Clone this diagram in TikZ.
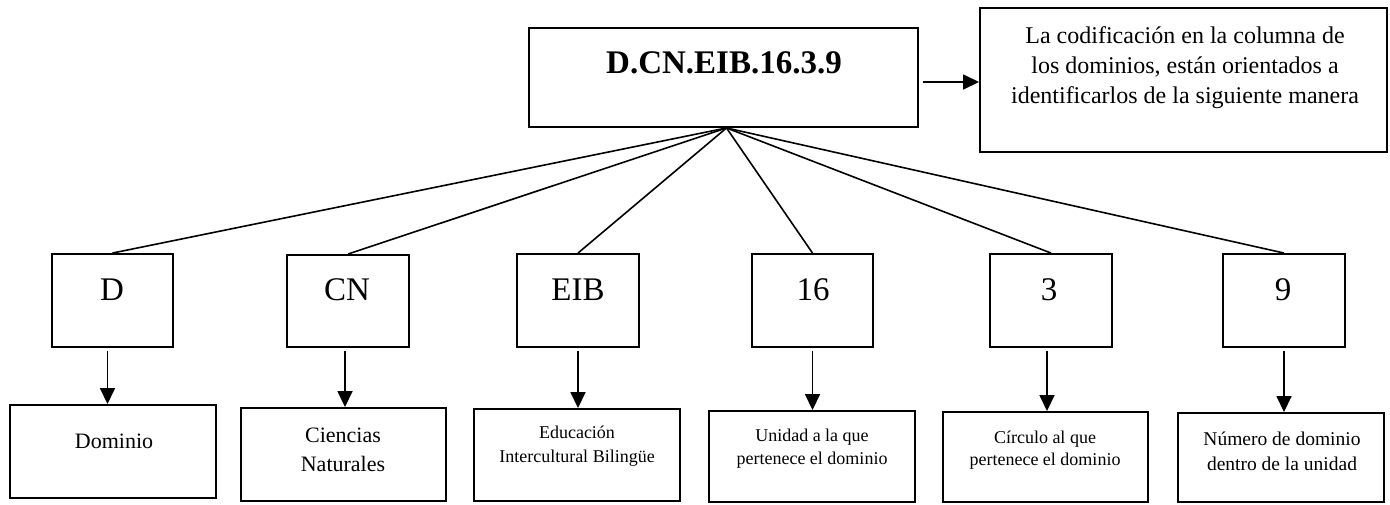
\documentclass[tikz,border=0pt]{standalone}
\usepackage{fontspec}
\setmainfont{Liberation Serif}
\usetikzlibrary{arrows.meta}
\newcommand{\mytxt}[3]{\parbox[t]{460pt}{\centering\fontsize{#1}{#2}\selectfont #3}}
\tikzset{
  bx/.style={draw, line width=1.9pt, inner sep=0pt},
  txt/.style={anchor=base, inner sep=0pt},
  fan/.style={line width=1.6pt},
  arr/.style={line width=1.6pt, -{Triangle[width=15pt,length=16pt]}}
}
\begin{document}
\begin{tikzpicture}[x=1pt,y=-1pt]
\useasboundingbox (0,0) rectangle (1390,504);
% main boxes
\node[bx, minimum width=389pt, minimum height=99pt] (top) at (723.5,77.5) {};
\node[bx, minimum width=407pt, minimum height=144pt] (right) at (1183.5,80) {};
% letter boxes
\node[bx, minimum width=121pt, minimum height=93pt] (bD) at (112.5,300.5) {};
\node[bx, minimum width=122pt, minimum height=92pt] (bCN) at (348,301) {};
\node[bx, minimum width=122pt, minimum height=93pt] (bEIB) at (578,300.5) {};
\node[bx, minimum width=121pt, minimum height=93pt] (b16) at (812.5,300.5) {};
\node[bx, minimum width=122pt, minimum height=93pt] (b3) at (1051,300.5) {};
\node[bx, minimum width=122pt, minimum height=93pt] (b9) at (1284,300.5) {};
% description boxes
\node[bx, minimum width=206pt, minimum height=93pt] (dD) at (113,451.5) {};
\node[bx, minimum width=205pt, minimum height=93pt] (dCN) at (343.5,454.5) {};
\node[bx, minimum width=206pt, minimum height=92pt] (dEIB) at (577,455) {};
\node[bx, minimum width=206pt, minimum height=91pt] (d16) at (812,456.5) {};
\node[bx, minimum width=205pt, minimum height=90pt] (d3) at (1045.5,457) {};
\node[bx, minimum width=206pt, minimum height=89pt] (d9) at (1281,457.5) {};
% texts
\node[txt] (tTop) at (724,73) {\fontsize{33}{40}\selectfont\bfseries D.CN.EIB.16.3.9};
\node[txt] (tRight) at (1185,43) {\mytxt{24}{30}{La codificación en la columna de\\los dominios, están orientados a\\identificarlos de la siguiente manera}};
\node[txt] (tbD) at (112,300) {\fontsize{33}{40}\selectfont D};
\node[txt] (tbCN) at (347,300) {\fontsize{33}{40}\selectfont CN};
\node[txt] (tbEIB) at (578,300) {\fontsize{33}{40}\selectfont EIB};
\node[txt] (tb16) at (813,300) {\fontsize{33}{40}\selectfont 16};
\node[txt] (tb3) at (1049,300) {\fontsize{33}{40}\selectfont 3};
\node[txt] (tb9) at (1283,300) {\fontsize{33}{40}\selectfont 9};
\node[txt] (tdD) at (114,448) {\fontsize{22}{29}\selectfont Dominio};
\node[txt] (tdCN) at (343,442) {\mytxt{22}{29}{Ciencias\\Naturales}};
\node[txt] (tdEIB) at (577,438) {\mytxt{18}{24}{Educación\\Intercultural Bilingüe}};
\node[txt] (td16) at (812,441) {\mytxt{18}{23}{Unidad a la que\\pertenece el dominio}};
\node[txt] (td3) at (1045,443) {\mytxt{18}{22.5}{Círculo al que\\pertenece el dominio}};
\node[txt] (td9) at (1282,445) {\mytxt{19.5}{25}{Número de dominio\\dentro de la unidad}};
% connectors
\coordinate (apex) at ([xshift=3pt]top.south);
\foreach \b in {bD,bCN,bEIB,b16,b3,b9} {
  \draw[fan] (apex) -- (\b.north);
}
\draw[arr] ([xshift=4pt,yshift=-4.5pt]top.east) -- ([yshift=-4.5pt]top.east -| right.west);
\draw[arr] ([xshift=-5pt,yshift=-3pt]bD.south) -- ([xshift=-5pt]bD.south |- dD.north);
\draw[arr] ([xshift=-3pt,yshift=-3pt]bCN.south) -- ([xshift=-3pt]bCN.south |- dCN.north);
\draw[arr] ([yshift=-3pt]bEIB.south) -- (bEIB.south |- dEIB.north);
\draw[arr] ([yshift=-3pt]b16.south) -- (b16.south |- d16.north);
\draw[arr] ([xshift=-4pt,yshift=-3pt]b3.south) -- ([xshift=-4pt]b3.south |- d3.north);
\draw[arr] ([yshift=-3pt]b9.south) -- (b9.south |- d9.north);
\end{tikzpicture}
\end{document}
